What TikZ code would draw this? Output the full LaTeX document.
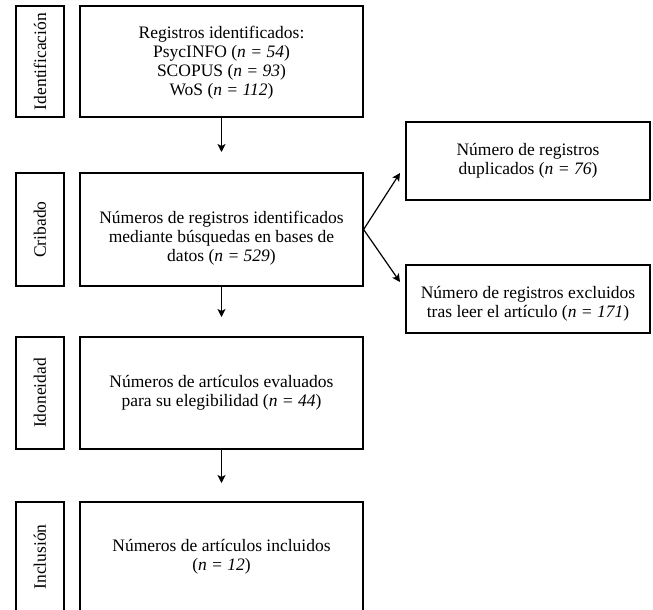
\documentclass[tikz,border=0pt]{standalone}
\usepackage{fontspec}
\setmainfont{Liberation Serif}
\usetikzlibrary{arrows.meta}
\begin{document}
\begin{tikzpicture}[x=1pt,y=-1pt,
  every node/.style={font=\fontsize{17.5}{19}\selectfont},
  boxx/.style={draw, line width=1.2pt, rectangle, inner sep=0pt},
  labbox/.style={boxx, rotate=90, minimum height=48pt},
  txt/.style={align=center, inner sep=0pt},
  arr/.style={line width=1.2pt, -{Stealth[length=8pt,width=8pt,inset=2pt]}}]
\useasboundingbox (0,0) rectangle (653,610);
% stage labels
\node[labbox, minimum width=111pt] (lab1) at (40,61.5) {Identificación};
\node[labbox, minimum width=113pt] (lab2) at (40,229.5) {Cribado};
\node[labbox, minimum width=112pt] (lab3) at (40,393) {Idoneidad};
\node[labbox, minimum width=110pt] (lab4) at (40,557) {Inclusión};
% main boxes
\node[boxx, minimum width=283pt, minimum height=111pt] (m1) at (221.5,61.5) {};
\node[boxx, minimum width=283pt, minimum height=113pt] (m2) at (221.5,229.5) {};
\node[boxx, minimum width=283pt, minimum height=112pt] (m3) at (221.5,393) {};
\node[boxx, minimum width=283pt, minimum height=110pt] (m4) at (221.5,557) {};
\node[boxx, minimum width=244pt, minimum height=78pt] (dup) at (528,161) {};
\node[boxx, minimum width=244pt, minimum height=68pt] (exc) at (528,299) {};
% texts
\node[txt] (t1) at (221.5,62.5) {Registros identificados:\\PsycINFO (\textit{n = 54})\\SCOPUS (\textit{n = 93})\\WoS (\textit{n = 112})};
\node[txt] (t2) at (221.5,238) {Números de registros identificados\\mediante búsquedas en bases de\\datos (\textit{n = 529})};
\node[txt] (t3) at (m3.center) {Números de artículos evaluados\\para su elegibilidad (\textit{n = 44})};
\node[txt] (t4) at (m4.center) {Números de artículos incluidos\\(\textit{n = 12})};
\node[txt] (td) at (dup.center) {Número de registros\\duplicados (\textit{n = 76})};
\node[txt] (te) at (528,304) {Número de registros excluidos\\tras leer el artículo (\textit{n = 171})};
% connectors
\coordinate (a1) at (221.5,152);
\coordinate (a2) at (221.5,317);
\coordinate (a3) at (221.5,483);
\coordinate (d1) at (400,173);
\coordinate (e1) at (400,282);
\draw[arr] (m1.south) -- (a1);
\draw[arr] (m2.south) -- (a2);
\draw[arr] (m3.south) -- (a3);
\draw[arr] (m2.east) -- (d1);
\draw[arr] (m2.east) -- (e1);
\end{tikzpicture}
\end{document}
